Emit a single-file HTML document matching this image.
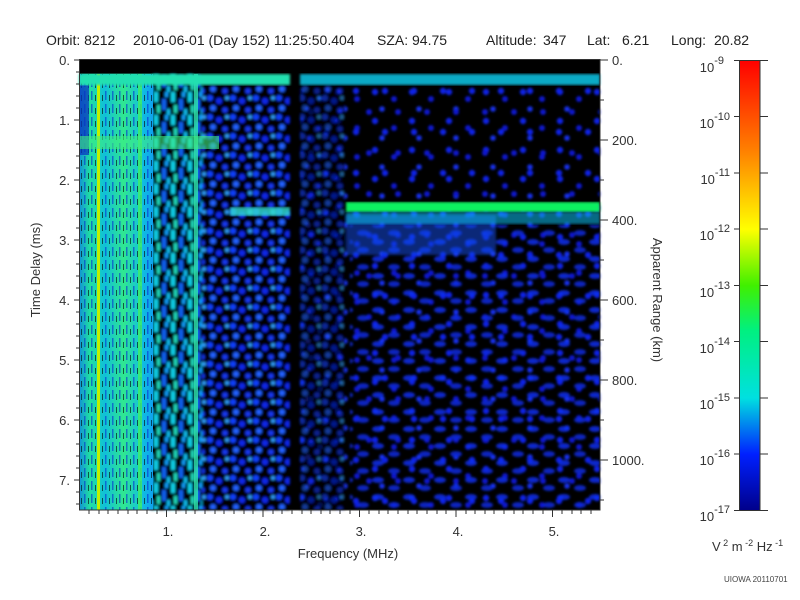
<!DOCTYPE html>
<html><head><meta charset="utf-8"><style>
body{margin:0;background:#fff;}
svg{display:block;font-family:"Liberation Sans",sans-serif;}
</style></head><body>
<svg width="800" height="600" viewBox="0 0 800 600" xmlns="http://www.w3.org/2000/svg">
<defs>
<filter id="bl" x="-5%" y="-5%" width="110%" height="110%"><feGaussianBlur stdDeviation="1.2"/></filter>
<linearGradient id="lg" x1="0" x2="1" y1="0" y2="0">
<stop offset="0" stop-color="#1090d8"/><stop offset="0.15" stop-color="#20e0a0"/>
<stop offset="0.35" stop-color="#10c0d8"/><stop offset="0.6" stop-color="#30e890"/>
<stop offset="0.85" stop-color="#10c0e0"/><stop offset="1" stop-color="#10a0f0"/>
</linearGradient>
<linearGradient id="cb" x1="0" x2="0" y1="0" y2="1">
<stop offset="0" stop-color="#ff0000"/><stop offset="0.2" stop-color="#ff8000"/>
<stop offset="0.375" stop-color="#ffff00"/><stop offset="0.5" stop-color="#40f000"/>
<stop offset="0.6" stop-color="#00f080"/><stop offset="0.75" stop-color="#00e0e0"/>
<stop offset="0.875" stop-color="#0020ff"/><stop offset="1" stop-color="#00008a"/>
</linearGradient>
<pattern id="stripes" width="7" height="13" patternUnits="userSpaceOnUse">
<rect x="0" y="0" width="1.5" height="9" fill="#0830d0"/><rect x="4" y="4" width="1" height="6" fill="#000"/>
</pattern>
<pattern id="mix" width="17" height="23" patternUnits="userSpaceOnUse">
<rect width="17" height="23" fill="#000"/>
<rect x="1" y="0" width="4" height="10" fill="#10d0e8"/><rect x="9" y="7" width="4" height="11" fill="#1060f0"/>
<rect x="4" y="13" width="3" height="8" fill="#20e0c0"/><rect x="12" y="0" width="3" height="5" fill="#10a0ff"/>
<rect x="14" y="17" width="3" height="6" fill="#10c0f0"/>
</pattern>
<pattern id="dense" width="23" height="19" patternUnits="userSpaceOnUse">
<rect width="23" height="19" fill="#000"/>
<circle cx="3" cy="3" r="3" fill="#1040ff"/><circle cx="12" cy="6" r="3.2" fill="#0828e8"/>
<circle cx="6" cy="13" r="3" fill="#2060ff"/><circle cx="18" cy="15" r="2.8" fill="#1838f0"/>
<circle cx="20" cy="3" r="2" fill="#30a0ff"/>
</pattern>
<pattern id="sparse" width="37" height="29" patternUnits="userSpaceOnUse">
<circle cx="5" cy="5" r="3.2" fill="#1020e8"/><circle cx="24" cy="12" r="3" fill="#0818d0"/>
<circle cx="12" cy="22" r="2.8" fill="#1830f0"/>
</pattern>
<pattern id="sparse2" width="29" height="41" patternUnits="userSpaceOnUse">
<circle cx="8" cy="9" r="3.2" fill="#1020e8"/><circle cx="21" cy="30" r="3" fill="#0818d0"/>
</pattern>
<pattern id="lower" width="31" height="17" patternUnits="userSpaceOnUse">
<ellipse cx="6" cy="4" rx="6" ry="3" fill="#1030f0"/><ellipse cx="22" cy="12" rx="6" ry="3" fill="#0828e0"/>
</pattern>
</defs>

<g font-size="14" fill="#222">
<text x="46" y="45">Orbit: 8212</text>
<text x="133" y="45">2010-06-01 (Day 152) 11:25:50.404</text>
<text x="377" y="45">SZA:  94.75</text>
<text x="486" y="45">Altitude:</text>
<text x="543" y="45">347</text>
<text x="587" y="45">Lat:</text>
<text x="622" y="45">6.21</text>
<text x="671" y="45">Long:</text>
<text x="714" y="45">20.82</text>
</g>

<rect x="79" y="59" width="521" height="451" fill="#000"/>
<g filter="url(#bl)">
<rect x="300" y="85" width="300" height="425" fill="url(#sparse)"/>
<rect x="300" y="85" width="300" height="425" fill="url(#sparse2)"/>
<rect x="350" y="225" width="250" height="285" fill="url(#lower)" opacity="0.85"/>
<rect x="200" y="85" width="90" height="425" fill="url(#dense)"/>
<rect x="300" y="85" width="45" height="425" fill="url(#dense)" opacity="0.6"/>
<rect x="150" y="74" width="52" height="436" fill="url(#mix)"/>
<rect x="346" y="215" width="150" height="40" fill="#1050f0" opacity="0.5"/>
</g>
<rect x="79" y="74" width="74" height="436" fill="url(#lg)"/>
<rect x="79" y="74" width="74" height="436" fill="url(#stripes)" opacity="0.6"/>
<rect x="79" y="85" width="10" height="70" fill="#0830c0" opacity="0.7"/>
<rect x="97" y="74" width="3" height="436" fill="#c0f000"/>
<rect x="138" y="74" width="4" height="436" fill="#40f060" opacity="0.8"/>
<rect x="194" y="74" width="4" height="436" fill="#30e8b0" opacity="0.8"/>
<rect x="79" y="136" width="140" height="13" fill="#40f080" opacity="0.6"/>
<rect x="79" y="74" width="211" height="11" fill="#20e0b0" filter="url(#bl)"/>
<rect x="300" y="74" width="300" height="11" fill="#10c8e8" opacity="0.85" filter="url(#bl)"/>
<rect x="346" y="202" width="254" height="10" fill="#10f060" filter="url(#bl)"/>
<rect x="346" y="212" width="254" height="12" fill="#10c0f0" opacity="0.55" filter="url(#bl)"/>
<rect x="230" y="207" width="60" height="9" fill="#30e0d0" opacity="0.8" filter="url(#bl)"/>

<g stroke="#333" stroke-width="1" fill="none">
<rect x="79.5" y="59.5" width="520.5" height="450.5"/>
<path d="M74 60H79M74 120H79M74 180H79M74 240H79M74 300H79M74 360H79M74 420H79M74 480H79"/>
<path d="M76 72H79M76 84H79M76 96H79M76 108H79M76 132H79M76 144H79M76 156H79M76 168H79M76 192H79M76 204H79M76 216H79M76 228H79M76 252H79M76 264H79M76 276H79M76 288H79M76 312H79M76 324H79M76 336H79M76 348H79M76 372H79M76 384H79M76 396H79M76 408H79M76 432H79M76 444H79M76 456H79M76 468H79M76 492H79M76 504H79"/>
<path d="M166.5 510V517M263 510V517M359.5 510V517M456 510V517M552.5 510V517"/>
<path d="M89 510V514M99 510V514M108 510V514M118 510V514M128 510V514M137 510V514M147 510V514M157 510V514M176 510V514M186 510V514M195 510V514M205 510V514M215 510V514M224 510V514M234 510V514M244 510V514M253 510V514M273 510V514M282 510V514M292 510V514M302 510V514M311 510V514M321 510V514M330 510V514M340 510V514M350 510V514M369 510V514M379 510V514M388 510V514M398 510V514M408 510V514M417 510V514M427 510V514M437 510V514M446 510V514M466 510V514M475 510V514M485 510V514M494 510V514M504 510V514M514 510V514M523 510V514M533 510V514M543 510V514M562 510V514M572 510V514M581 510V514M591 510V514"/>
<path d="M600 60H608M600 140H608M600 220H608M600 300H608M600 380H608M600 460H608M600 100H604M600 180H604M600 260H604M600 340H604M600 420H604M600 500H604"/>
</g>
<g font-size="13" fill="#333" text-anchor="end">
<text x="70" y="65">0.</text><text x="70" y="125">1.</text><text x="70" y="185">2.</text><text x="70" y="245">3.</text>
<text x="70" y="305">4.</text><text x="70" y="365">5.</text><text x="70" y="425">6.</text><text x="70" y="485">7.</text>
</g>
<g font-size="13" fill="#333" text-anchor="middle">
<text x="168" y="536">1.</text><text x="265" y="536">2.</text><text x="361" y="536">3.</text><text x="458" y="536">4.</text><text x="554" y="536">5.</text>
<text x="348" y="558">Frequency (MHz)</text>
</g>
<g font-size="13" fill="#333">
<text x="612" y="65">0.</text><text x="612" y="145">200.</text><text x="612" y="225">400.</text>
<text x="612" y="305">600.</text><text x="612" y="385">800.</text><text x="612" y="465">1000.</text>
</g>
<text transform="translate(40,270) rotate(-90)" font-size="13" fill="#333" text-anchor="middle">Time Delay (ms)</text>
<text transform="translate(653,300) rotate(90)" font-size="13" fill="#333" text-anchor="middle">Apparent Range (km)</text>

<rect x="739.5" y="60.5" width="20.5" height="450" fill="url(#cb)" stroke="#333"/>
<g stroke="#333">
<path d="M734 60.5H739M734 116.5H739M734 173H739M734 229H739M734 285.5H739M734 341.5H739M734 398H739M734 454H739M734 510.5H739"/>
<path d="M760 60.5H768M760 116.5H768M760 173H768M760 229H768M760 285.5H768M760 341.5H768M760 398H768M760 454H768M760 510.5H768"/>
</g>
<g font-size="13" fill="#333" text-anchor="end">
<text x="724" y="72">10<tspan dy="-8" font-size="11">-9</tspan></text>
<text x="730" y="128">10<tspan dy="-8" font-size="11">-10</tspan></text>
<text x="730" y="184">10<tspan dy="-8" font-size="11">-11</tspan></text>
<text x="730" y="240">10<tspan dy="-8" font-size="11">-12</tspan></text>
<text x="730" y="297">10<tspan dy="-8" font-size="11">-13</tspan></text>
<text x="730" y="353">10<tspan dy="-8" font-size="11">-14</tspan></text>
<text x="730" y="409">10<tspan dy="-8" font-size="11">-15</tspan></text>
<text x="730" y="465">10<tspan dy="-8" font-size="11">-16</tspan></text>
<text x="730" y="521">10<tspan dy="-8" font-size="11">-17</tspan></text>
</g>
<text x="712" y="551" font-size="13" fill="#333">V<tspan dy="-5" font-size="9"> 2</tspan><tspan dy="5"> m</tspan><tspan dy="-5" font-size="9"> -2</tspan><tspan dy="5"> Hz</tspan><tspan dy="-5" font-size="9"> -1</tspan></text>
<text x="724" y="582" font-size="8" fill="#444">UIOWA 20110701</text>
</svg>
</body></html>
